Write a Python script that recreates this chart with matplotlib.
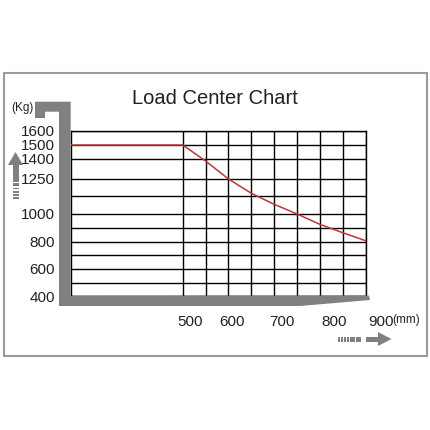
import numpy as np
import matplotlib.pyplot as plt
from matplotlib.patches import Polygon, Rectangle
from matplotlib.scale import FuncScale

# --- DATA ---
load_center_mm = [0, 500, 550, 600, 650, 700, 750, 800, 850, 900]
capacity_kg = [1500, 1500, 1385, 1250, 1148, 1069, 1000, 926, 866, 809]
y_ticks = [400, 600, 800, 1000, 1250, 1400, 1500, 1600]
y_grid = [500, 700, 900, 1125]
x_ticks = [500, 600, 700, 800, 900]
x_grid = [500, 550, 600, 650, 700, 750, 800, 850, 900]

# chart is drawn on a stretched (piecewise) scale like the printed sheet
ky = np.array([400, 600, 800, 1000, 1250, 1400, 1500, 1600])
py = np.array([0, 27, 54, 82, 117, 137, 151, 165])
kx = np.array([0, 500, 900])
px = np.array([0, 111.7, 294.7])

plt.rcParams['font.family'] = ['Liberation Sans', 'DejaVu Sans']

W = H = 430
fig = plt.figure(figsize=(W / 100, H / 100), dpi=100)

def box(l, t, r, b):
    return [l / W, (H - b) / H, (r - l) / W, (b - t) / H]

ax = fig.add_axes(box(71, 131, 365.7, 296))
ax.set_xscale(FuncScale(ax, (lambda v: np.interp(v, kx, px), lambda v: np.interp(v, px, kx))))
ax.set_yscale(FuncScale(ax, (lambda v: np.interp(v, ky, py), lambda v: np.interp(v, py, ky))))
ax.set_xlim(0, 900)
ax.set_ylim(400, 1600)

for v in y_ticks + y_grid:
    ax.axhline(v, color='black', lw=1.0, zorder=1)
for v in x_grid:
    ax.axvline(v, color='black', lw=1.0, zorder=1)
ax.plot(load_center_mm, capacity_kg, color='#c8333a', lw=1.1, zorder=3)

for s in ax.spines.values():
    s.set_linewidth(1.0)
ax.set_yticks(y_ticks)
ax.set_yticklabels([str(v) for v in y_ticks])
ax.tick_params(axis='y', length=0, pad=11.5, labelsize=11, colors='#222222')
ax.set_xticks([])

# x labels sit a little right of their grid lines on the original sheet
x_shift = [7, 4, 8, 14, 15]
for v, dx in zip(x_ticks, x_shift):
    ax.annotate(str(v), xy=(v, 0), xycoords=('data', 'axes fraction'),
                xytext=(dx * 0.72, -26 * 0.72), textcoords='offset points',
                ha='center', va='center', fontsize=11, color='#222222')

# --- overlay for frame, forklift outline and arrows ---
ov = fig.add_axes([0, 0, 1, 1], zorder=5)
ov.set_xlim(0, W)
ov.set_ylim(H, 0)
ov.axis('off')
ov.patch.set_alpha(0)

ov.add_patch(Rectangle((3.5, 73), 423, 283, fill=False, ec='#9a9a9a', lw=1.5))
grey = '#808080'
ov.add_patch(Polygon([(35, 101.7), (70.7, 101.7), (70.7, 296), (369, 295.5), (370, 300),
                      (300, 306), (59, 306), (59, 111.7), (45, 111.7), (45, 118), (35, 118)],
                     closed=True, fc=grey, ec='none'))

# up arrow
ov.add_patch(Polygon([(8, 165), (15.5, 152), (23, 165)], closed=True, fc=grey, ec='none'))
ov.add_patch(Rectangle((12.5, 165), 6, 17, fc=grey, ec='none'))
for y0, h in [(183, 3), (187.5, 1.8), (190.8, 1.8), (194, 1.8), (197.2, 1.8)]:
    ov.add_patch(Rectangle((12.5, y0), 6, h, fc=grey, ec='none'))

# right arrow
for x0, w in [(338, 1.6), (341, 1.6), (344, 1.6), (347, 1.6), (350, 4.5), (356, 5)]:
    ov.add_patch(Rectangle((x0, 336.5), w, 5, fc=grey, ec='none'))
ov.add_patch(Rectangle((366, 336.5), 12, 5, fc=grey, ec='none'))
ov.add_patch(Polygon([(378, 332), (391.5, 339), (378, 346)], closed=True, fc=grey, ec='none'))

ov.text(215, 99, 'Load Center Chart', ha='center', va='center', fontsize=14.5, color='#222222')
ov.text(22, 108, '(Kg)', ha='center', va='center', fontsize=8.5, color='#222222')
ov.text(406, 320, '(mm)', ha='center', va='center', fontsize=8.5, color='#222222')

fig.savefig('out.png', dpi=100)
